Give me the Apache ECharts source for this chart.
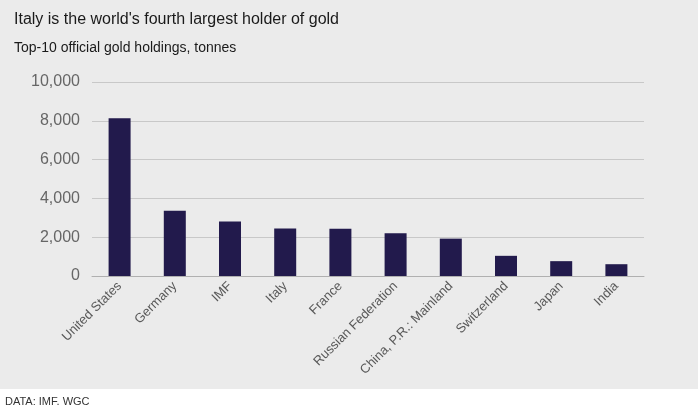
<!DOCTYPE html>
<html>
<head>
<meta charset="utf-8">
<script src="https://cdn.jsdelivr.net/npm/echarts@6/dist/echarts.min.js"></script>
<style>
  html, body { margin: 0; padding: 0; background: #fff; }
  #chart { width: 698px; height: 405px; }
</style>
</head>
<body>
<div id="chart"></div>
<script>
var countries = ['United States', 'Germany', 'IMF', 'Italy', 'France', 'Russian Federation',
    'China, P.R.: Mainland', 'Switzerland', 'Japan', 'India'];
var tonnes = [8133, 3362, 2814, 2452, 2436, 2207, 1926, 1040, 765, 608];

var myChart = echarts.init(document.getElementById('chart'));
option = {
    backgroundColor: '#ffffff',
    graphic: [{
        type: 'rect',
        shape: { x: 0, y: 0, width: 698, height: 389 },
        style: { fill: '#ebebeb' },
        z: -10
    }],
    title: [{
        text: "Italy is the world's fourth largest holder of gold",
        left: 9, top: 7,
        textStyle: { fontFamily: 'Liberation Sans', fontWeight: 'normal', fontSize: 16, color: '#1a1a1a' }
    }, {
        text: 'Top-10 official gold holdings, tonnes',
        left: 9, top: 36,
        textStyle: { fontFamily: 'Liberation Sans', fontWeight: 'normal', fontSize: 14, color: '#1a1a1a' }
    }, {
        text: 'DATA: IMF, WGC',
        left: 0, top: 391,
        textStyle: { fontFamily: 'Liberation Sans', fontWeight: 'normal', fontSize: 11, color: '#333' }
    }],
    grid: { left: 92, top: 82, width: 552, height: 194 },
    xAxis: {
        type: 'category',
        data: countries,
        axisLine: { lineStyle: { color: '#b0b0b0' } },
        axisTick: { show: false },
        axisLabel: {
            interval: 0, rotate: 45, margin: 8,
            fontFamily: 'Liberation Sans', fontSize: 13, color: '#595959'
        }
    },
    yAxis: {
        type: 'value',
        min: 0, max: 10000, interval: 2000,
        axisLine: { show: false },
        axisTick: { show: false },
        axisLabel: {
            margin: 12, fontFamily: 'Liberation Sans', fontSize: 16, color: '#666',
            formatter: function (v) { return v.toLocaleString('en-US'); }
        },
        splitLine: { lineStyle: { color: '#c8c8c8' } }
    },
    series: [{
        type: 'bar',
        data: tonnes,
        barWidth: 22,
        itemStyle: { color: '#221a4c' }
    }]
};
myChart.setOption(option);
</script>
</body>
</html>
